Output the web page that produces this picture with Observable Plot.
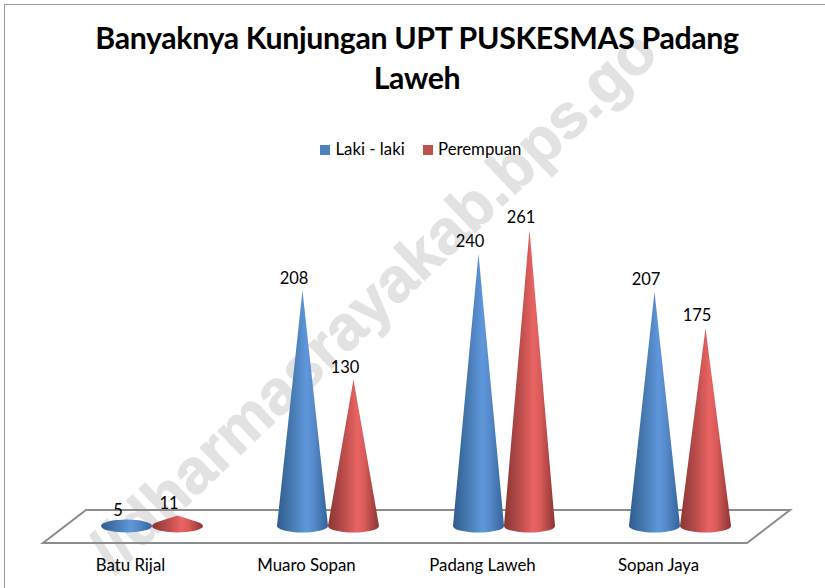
<!DOCTYPE html>
<html>
<head>
<meta charset="utf-8">
<script src="https://cdn.jsdelivr.net/npm/d3@7"></script>
<script src="https://cdn.jsdelivr.net/npm/@observablehq/plot@0.6"></script>
<style>
html,body{margin:0;padding:0;background:#fff;}
#page{position:relative;width:825px;height:588px;overflow:hidden;font-family:Lato,sans-serif;color:#000;}
#border{position:absolute;left:4px;top:4px;width:830px;height:600px;border:1.5px solid #9a9a9a;box-sizing:border-box;}
#wm{position:absolute;left:0;top:0;}
#title{position:absolute;left:0;top:17px;width:825px;text-align:center;font:bold 30.3px/40px Lato,sans-serif;letter-spacing:-0.35px;}
#title span{display:block;position:relative;left:4.5px;}
#legend{position:absolute;left:0;top:139px;width:825px;height:20px;font:16.8px/20px Lato,sans-serif;letter-spacing:0;}
#legend i{position:absolute;top:6px;width:10px;height:10px;}
#legend b{position:absolute;top:0;font-weight:400;white-space:nowrap;}
#chart{position:absolute;left:0;top:190px;}
</style>
</head>
<body>
<div id="page">
  <svg id="wm" width="825" height="588"><text x="114" y="575" transform="rotate(-43.5 114 575)" font-family="Liberation Sans" font-weight="bold" font-size="62.5" fill="#e2e2e2" stroke="#e2e2e2" stroke-width="1">//dharmasrayakab.bps.go</text></svg>
  <div id="border"></div>
  <div id="title"><span>Banyaknya Kunjungan UPT PUSKESMAS Padang</span><span>Laweh</span></div>
  <div id="legend"></div>
  <div id="chart"></div>
</div>
<script>
const categories = ["Batu Rijal", "Muaro Sopan", "Padang Laweh", "Sopan Jaya"];
const seriesNames = ["Laki - laki", "Perempuan"];
const lakiLaki = [5, 208, 240, 207];
const perempuan = [11, 130, 261, 175];
const swatchColors = ["#4f81bd", "#c0504d"];
const gradients = [
  ["#2f5c8c", "#477ab3", "#5f97db", "#568bcb", "#33639a"],
  ["#8a3634", "#b94c4a", "#e96463", "#d85a59", "#8b3533"]
];

const rows = categories.flatMap((c, i) => [
  {category: c, series: seriesNames[0], value: lakiLaki[i]},
  {category: c, series: seriesNames[1], value: perempuan[i]}
]);

const ns = "http://www.w3.org/2000/svg";
const ry = 6.5;

// Turn each bar that Plot laid out into a cone with an elliptical base.
function coneRender(index, scales, values, dimensions, context, next) {
  const g = next(index, scales, values, dimensions, context);
  const svg = context.ownerSVGElement;
  if (!svg.querySelector("#coneDefs")) {
    const defs = document.createElementNS(ns, "defs");
    defs.id = "coneDefs";
    gradients.forEach((stops, k) => {
      const lg = document.createElementNS(ns, "linearGradient");
      lg.id = "coneGrad" + k;
      stops.forEach((c, j) => {
        const s = document.createElementNS(ns, "stop");
        s.setAttribute("offset", [0, 0.3, 0.58, 0.72, 1][j]);
        s.setAttribute("stop-color", c);
        lg.appendChild(s);
      });
      defs.appendChild(lg);
    });
    svg.insertBefore(defs, svg.firstChild);
  }
  g.querySelectorAll("rect").forEach(rect => {
    const x = +rect.getAttribute("x"), w = +rect.getAttribute("width");
    const y = +rect.getAttribute("y"), h = +rect.getAttribute("height");
    const rx = w / 2, cx = x + rx, base = y + h - 2;
    const apex = y;
    const p = document.createElementNS(ns, "path");
    const k = seriesNames.findIndex(n => values.fill && rect.getAttribute("fill") === scales.color(n));
    let d;
    if (base - apex <= ry) {
      d = `M${cx - rx},${base}A${rx},${ry} 0 1 1 ${cx + rx},${base}A${rx},${ry} 0 1 1 ${cx - rx},${base}Z`;
    } else {
      // tangent points from the apex to the ellipse
      const t = ry / (base - apex);
      const tx = rx * Math.sqrt(1 - t * t), ty = base - ry * t;
      d = `M${cx},${apex}L${cx + tx},${ty}A${rx},${ry} 0 1 1 ${cx - tx},${ty}Z`;
    }
    p.setAttribute("d", d);
    p.setAttribute("fill", `url(#coneGrad${k < 0 ? 0 : k})`);
    rect.replaceWith(p);
  });
  return g;
}

// Floor parallelogram derived from the chart frame and the y scale.
function floorRender(index, scales, values, dimensions) {
  const g = document.createElementNS(ns, "g");
  const p = document.createElementNS(ns, "path");
  const y0 = scales.y(0);
  const front = y0 + 15, back = y0 - 18;
  const left = dimensions.marginLeft - 21, right = dimensions.width - dimensions.marginRight - 21;
  const skew = 43;
  p.setAttribute("d", `M${left},${front}L${right},${front}L${right + skew},${back}L${left + skew},${back}Z`);
  p.setAttribute("fill", "none");
  p.setAttribute("stroke", "#8c8c8c");
  p.setAttribute("stroke-width", 2);
  g.appendChild(p);
  return g;
}

const plot = Plot.plot({
  width: 825,
  height: 398,
  marginTop: 0,
  marginBottom: 60,
  marginLeft: 64,
  marginRight: 57,
  style: {background: "transparent", fontFamily: "Lato, sans-serif", overflow: "visible"},
  fx: {domain: categories, padding: 0, label: null},
  x: {domain: seriesNames, paddingInner: 0, paddingOuter: 0.725, axis: null},
  y: {domain: [0, 296], axis: null},
  color: {domain: seriesNames, range: swatchColors},
  marks: [
    Plot.frame({facet: "super", stroke: "#8c8c8c", render: floorRender}),
    Plot.barY(rows, {fx: "category", x: "series", y: "value", fill: "series", render: coneRender}),
    Plot.text(rows, {fx: "category", x: "series", y: "value", text: "value", dy: -12.5, dx: -9, fontSize: 16.5, fill: "#000"}),
    Plot.axisFx({anchor: "bottom", label: null, tickSize: 0, tickPadding: 31, dx: -22, fontSize: 16.8, color: "#000"})
  ]
});
document.getElementById("chart").appendChild(plot);

const legend = document.getElementById("legend");
[[320, 335.5], [423, 438]].forEach(([sx, tx], i) => {
  const sw = document.createElement("i");
  sw.style.left = sx + "px"; sw.style.background = swatchColors[i];
  const t = document.createElement("b");
  t.style.left = tx + "px"; t.textContent = seriesNames[i];
  legend.append(sw, t);
});
</script>
</body>
</html>
